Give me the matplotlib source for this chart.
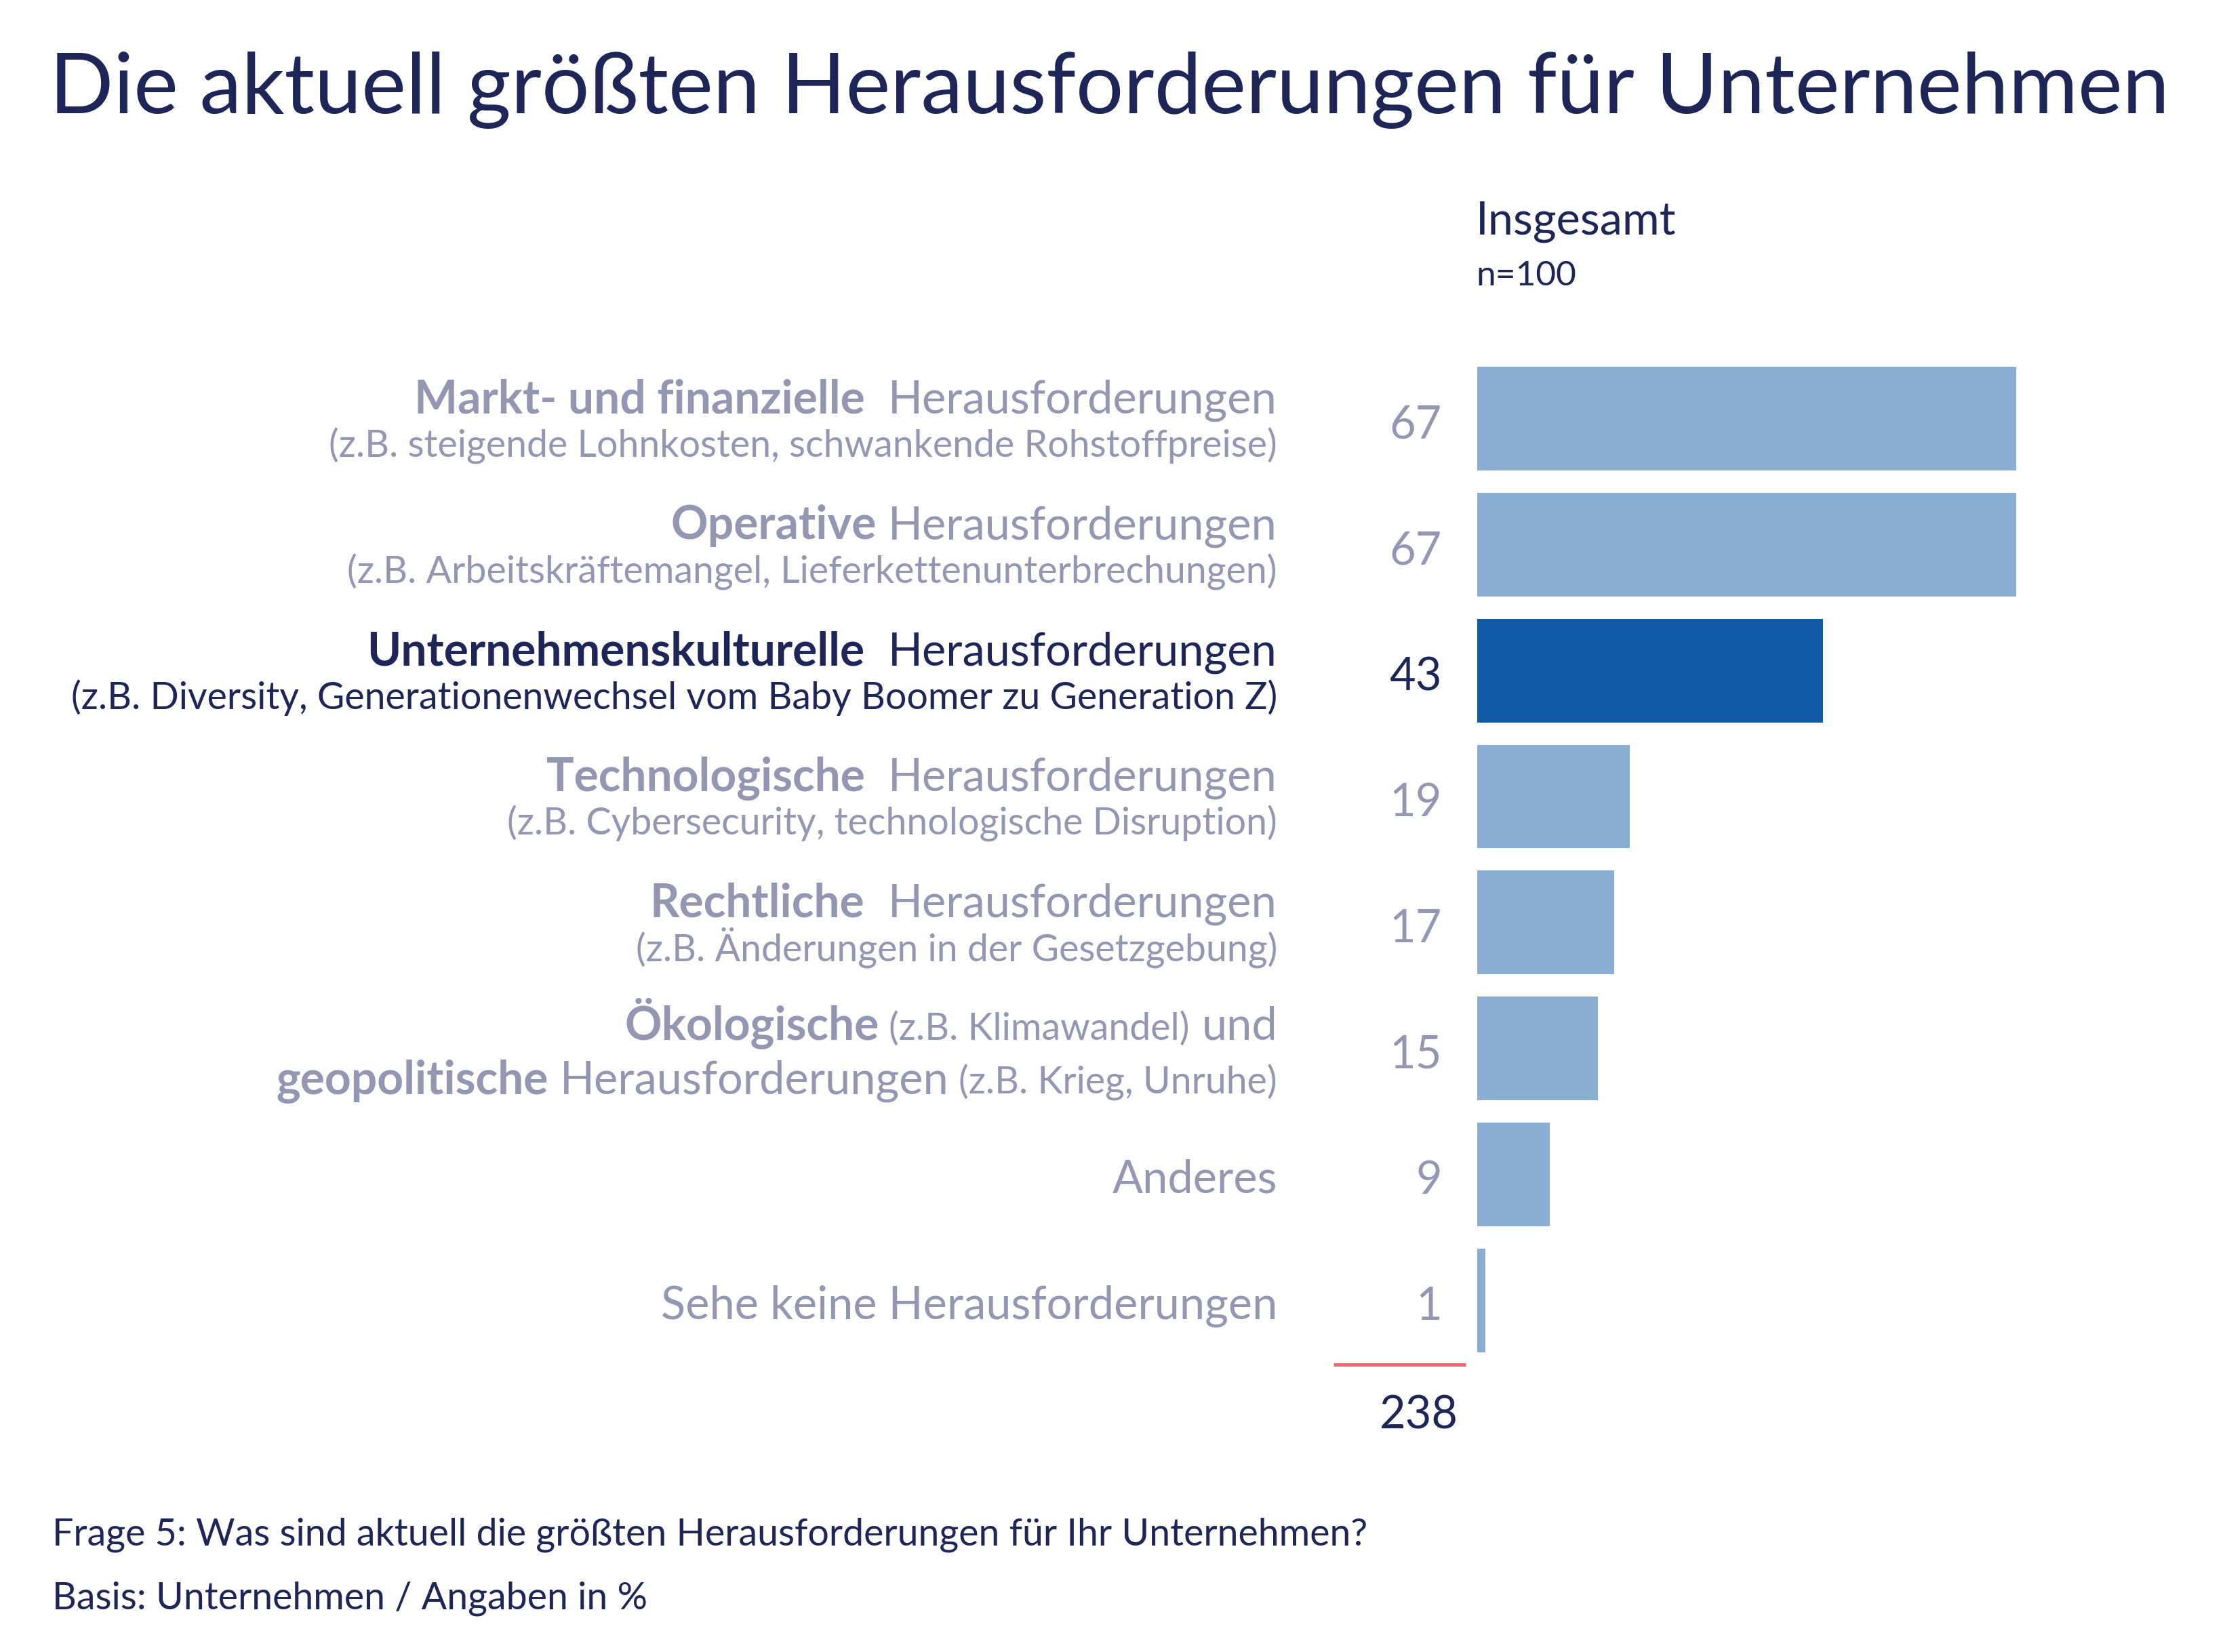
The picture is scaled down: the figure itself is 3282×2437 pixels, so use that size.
import matplotlib
matplotlib.use("Agg")
import matplotlib.pyplot as plt
from matplotlib.lines import Line2D

FONT = ["Lato", "DejaVu Sans"]
plt.rcParams['font.family'] = FONT

NAVY = "#1e2557"
GREY = "#9497b2"
LIGHT = "#8aadd4"
DARK = "#105aa8"
RED = "#ef6b74"

title = "Die aktuell größten Herausforderungen für Unternehmen"
column_title = "Insgesamt"
column_n = "n=100"
values = [67, 67, 43, 19, 17, 15, 9, 1]
total_label = "238"
highlight_index = 2
categories = [
    "Markt- und finanzielle Herausforderungen",
    "Operative Herausforderungen",
    "Unternehmenskulturelle Herausforderungen",
    "Technologische Herausforderungen",
    "Rechtliche Herausforderungen",
    "Ökologische und geopolitische Herausforderungen",
    "Anderes",
    "Sehe keine Herausforderungen",
]
# each category -> lines; each line -> (text, style) with b=bold, r=regular, s=small
label_lines = [
    [[("Markt- und finanzielle", "b"), ("  Herausforderungen", "r")],
     [("(z.B. steigende Lohnkosten, schwankende Rohstoffpreise)", "s")]],
    [[("Operative", "b"), (" Herausforderungen", "r")],
     [("(z.B. Arbeitskräftemangel, Lieferkettenunterbrechungen)", "s")]],
    [[("Unternehmenskulturelle", "b"), ("  Herausforderungen", "r")],
     [("(z.B. Diversity, Generationenwechsel vom Baby Boomer zu Generation Z)", "s")]],
    [[("Technologische", "b"), ("  Herausforderungen", "r")],
     [("(z.B. Cybersecurity, technologische Disruption)", "s")]],
    [[("Rechtliche", "b"), ("  Herausforderungen", "r")],
     [("(z.B. Änderungen in der Gesetzgebung)", "s")]],
    [[("Ökologische", "b"), (" (z.B. Klimawandel)", "s"), (" und", "r")],
     [("geopolitische", "b"), (" Herausforderungen", "r"), (" (z.B. Krieg, Unruhe)", "s")]],
    [[("Anderes", "r")]],
    [[("Sehe keine Herausforderungen", "r")]],
]
footnotes = [
    "Frage 5: Was sind aktuell die größten Herausforderungen für Ihr Unternehmen?",
    "Basis: Unternehmen / Angaben in %",
]

W, H = 3282, 2437
DPI = 100
MAIN = 48
SMALL = 40
TITLE = 89.5
STYLE = {"b": ("bold", MAIN + 0.8), "r": ("normal", MAIN), "s": ("normal", SMALL)}

fig = plt.figure(figsize=(W / DPI, H / DPI), dpi=DPI)
fig.patch.set_facecolor("white")

def fx(px):
    return px / W

def fy(py):
    return 1 - py / H

x0_px = 2179
px_per_unit = 11.866
top_px, bot_px = 524.6, 2011.2
ax = fig.add_axes([fx(x0_px), fy(bot_px), (W - x0_px) / W, (bot_px - top_px) / H])
ax.set_xlim(0, (W - x0_px) / px_per_unit)
ax.set_ylim(len(values) - 0.5, -0.5)
ax.axis("off")

ypos = list(range(len(values)))
colors = [DARK if i == highlight_index else LIGHT for i in ypos]
ax.barh(ypos, values, height=0.822, color=colors)

renderer = fig.canvas.get_renderer()
LABEL_DX = -295

for i, v in enumerate(values):
    c = NAVY if i == highlight_index else GREY
    ax.annotate(str(v), xy=(0, i), xytext=(-52, -29), textcoords="offset pixels",
                ha="right", va="baseline", fontsize=MAIN, color=c)
    lines = label_lines[i]
    if len(lines) == 1:
        offsets = [27]
    elif lines[1][0][1] == "s":
        offsets = [-8, 57]
    else:
        offsets = [-13, 67]
    for parts, dy in zip(lines, offsets):
        x = LABEL_DX
        for text, style in reversed(parts):
            weight, size = STYLE[style]
            lead = len(text) - len(text.lstrip(" "))
            t = ax.annotate(text.strip(), xy=(0, i), xytext=(x, -dy), textcoords="offset pixels",
                            ha="right", va="baseline", fontsize=size, fontweight=weight, color=c)
            w = t.get_window_extent(renderer).width
            x -= w + lead * 0.26 * size * DPI / 72

fig.text(fx(73), fy(167), title, fontsize=TITLE, color=NAVY, va="baseline", ha="left")
fig.text(fx(2177), fy(345), column_title, fontsize=MAIN, color=NAVY, va="baseline", ha="left")
fig.text(fx(2177), fy(421), column_n, fontsize=SMALL - 3, color=NAVY, va="baseline", ha="left")

fig.add_artist(Line2D([fx(1967), fx(2162)], [fy(2013), fy(2013)], transform=fig.transFigure,
                      color=RED, linewidth=3.6, solid_capstyle="butt"))
fig.text(fx(2093), fy(2108), total_label, fontsize=MAIN, color=NAVY, va="baseline", ha="center")

fig.text(fx(77), fy(2279), footnotes[0], fontsize=SMALL, color=NAVY, va="baseline", ha="left")
fig.text(fx(77), fy(2373), footnotes[1], fontsize=SMALL, color=NAVY, va="baseline", ha="left")

fig.savefig("out.png", dpi=DPI, facecolor="white")
